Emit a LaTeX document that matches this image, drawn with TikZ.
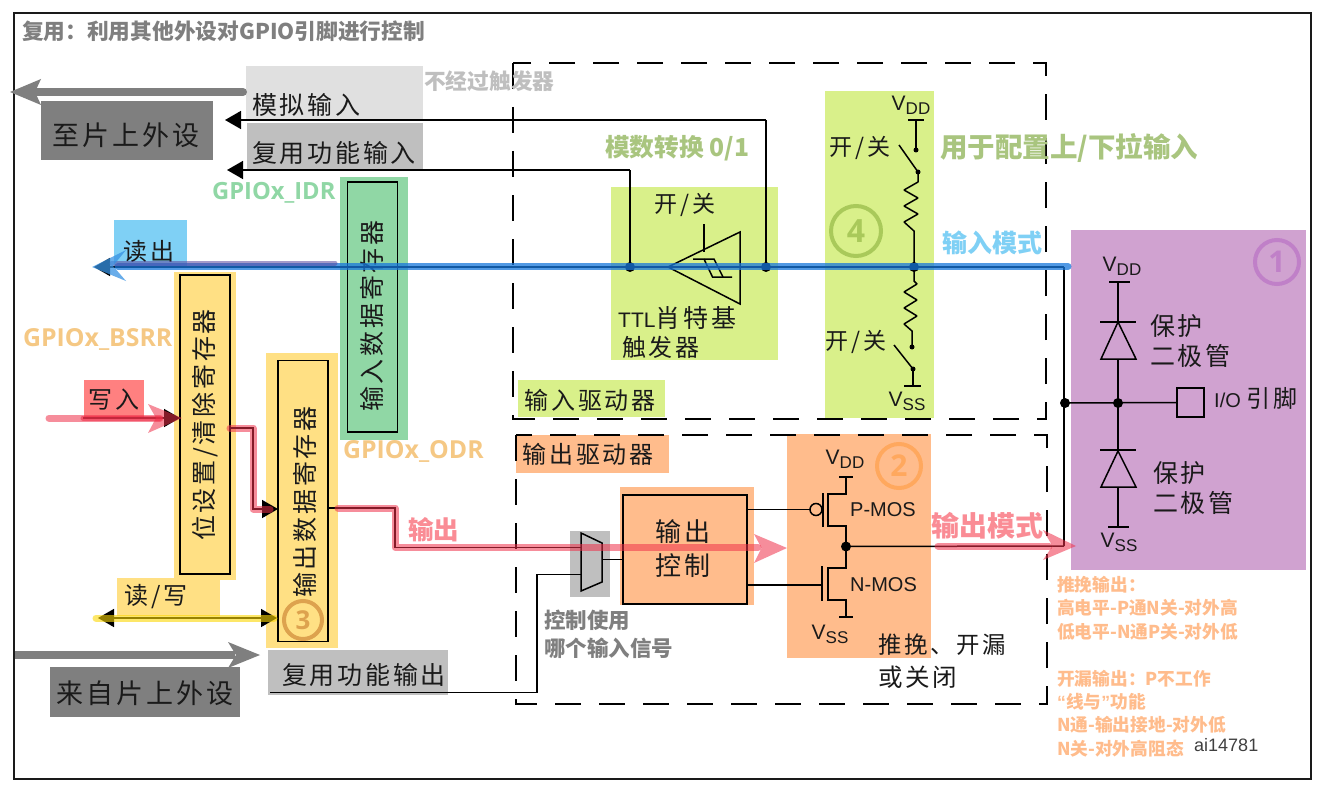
\documentclass[tikz,border=0pt]{standalone}
\usepackage{fontspec}
\setmainfont{Open Sans}
\setsansfont{Liberation Sans}
\newfontfamily\cjk[LetterSpace=11]{Noto Sans CJK SC}
\newfontfamily\cjkb{Noto Sans CJK SC}
\usetikzlibrary{arrows.meta}
\definecolor{ink}{HTML}{1A1A1A}
\definecolor{gfill}{HTML}{7F7F7F}
\definecolor{lgray}{HTML}{BFBFBF}
\definecolor{vlgray}{HTML}{E0E0E0}
\definecolor{greenreg}{HTML}{90D7A5}
\definecolor{yellowreg}{HTML}{FFE084}
\definecolor{orangereg}{HTML}{FFBC8C}
\definecolor{limefill}{HTML}{D9F08A}
\definecolor{purplefill}{HTML}{D0A2D0}
\definecolor{skyfill}{HTML}{7FD0F5}
\definecolor{redfill}{HTML}{FF8080}
\definecolor{olivetxt}{HTML}{A9C57F}
\definecolor{redtxt}{HTML}{FA8C95}
\definecolor{gpioyel}{HTML}{F5C884}
\definecolor{redover}{HTML}{F0304A}
\definecolor{blueover}{HTML}{1878DC}
\definecolor{badgeA}{HTML}{C080C8}
\definecolor{badgeB}{HTML}{FFA85E}
\definecolor{badgeC}{HTML}{DDA24E}
\definecolor{badgeD}{HTML}{A9C95A}
\newcommand\rail[1]{{\sffamily\fontsize{21}{21}\selectfont V\lower4pt\hbox{\fontsize{17}{17}\selectfont #1}}}
\tikzset{
  every node/.style={inner sep=0pt,text=ink},
  lab/.style={font=\cjk\fontsize{#1}{#1}\selectfont},
  bold/.style={font=\cjkb\bfseries\fontsize{#1}{#1}\selectfont},
  gpio/.style={font=\bfseries\fontsize{#1}{#1}\selectfont},
  sanslab/.style={font=\sffamily\fontsize{#1}{#1}\selectfont},
  wire/.style={draw=black,line width=1.5pt},
  reg/.style={draw=black,line width=1.7pt},
  dashbox/.style={draw=black,line width=2pt,dash pattern=on 26pt off 18pt},
  badge/.style={circle,draw=#1,line width=4pt,text=#1,font=\bfseries\fontsize{30}{30}\selectfont},
  dot/.style={circle,fill=black,draw=none,minimum size=10pt},
  smalldot/.style={circle,fill=black,draw=none,minimum size=5pt},
  tip/.style={-{Triangle[length=16pt,width=18pt]}},
  redlayer/.style={draw=redover,opacity=.55,line width=7pt,line cap=round,line join=round},
}
\begin{document}
\begin{tikzpicture}[x=1pt,y=-1pt]
\useasboundingbox (0,0) rectangle (1325,797);
\fill[white] (0,0) rectangle (1325,797);

% ---- colour blocks
\fill[purplefill] (1071,230) rectangle (1306,570);
\fill[limefill] (611,187) rectangle (778,360);
\fill[limefill] (825,91) rectangle (934,418);
\fill[limefill] (518,380) rectangle (665,417);
\fill[orangereg] (787,434) rectangle (931,658);
\fill[orangereg] (620,487) rectangle (754,605);
\fill[orangereg] (516,435) rectangle (669,473);
\fill[lgray] (570,531) rectangle (610,597);
\fill[vlgray] (246,66) rectangle (423,119);
\fill[lgray] (247,123) rectangle (423,170);
\fill[lgray] (268,650) rectangle (448,695);
\fill[gfill] (41,101) rectangle (213,160);
\fill[gfill] (50,667) rectangle (240,717);
\fill[greenreg] (340,177) rectangle (408,440);
\fill[skyfill] (114,220) rectangle (187,267);
\fill[yellowreg] (174,272) rectangle (236,580);
\fill[yellowreg] (266,353) rectangle (338,648);
\fill[yellowreg] (117,578) rectangle (220,616);
\fill[redfill] (84,380) rectangle (144,418);

% ---- frames
\draw[draw=ink,line width=2pt] (14,13) rectangle (1311,779);
\draw[dashbox] (513,63) rectangle (1046,419);
\draw[dashbox] (516,435) rectangle (1047,704);

% ---- registers and blocks
\node[reg,minimum width=50pt,minimum height=250pt] (idr) at (372.5,307) {};
\node[reg,minimum width=50pt,minimum height=299pt] (bsrr) at (205,424.5) {};
\node[reg,minimum width=50pt,minimum height=281pt] (odr) at (303,501) {};
\node[reg,minimum width=124pt,minimum height=109pt] (ctrl) at (685,549.5) {};
\node[reg,minimum width=27pt,minimum height=29pt] (pin) at (1190.5,402.5) {};
\node[lab=25,rotate=90] (idrt) at (372,316) {输入数据寄存器};
\node[lab=25,rotate=90] (bsrrt) at (205,425) {位设置/清除寄存器};
\node[lab=25,rotate=90] (odrt) at (305,502) {输出数据寄存器};
\node[lab=26] (ctrla) at (683,532) {输出};
\node[lab=26] (ctrlb) at (683,566) {控制};

% ---- junctions
\coordinate (jSa) at (630,267);
\coordinate (jSb) at (766,267);
\coordinate (jPull) at (914,267);
\coordinate (jMos) at (846,546.5);
\coordinate (jRail) at (1064,403);
\coordinate (jPin) at (1118,403);
\coordinate (railTop) at (1064,267);
\coordinate (railBot) at (1064,546);
\coordinate (anaEnd) at (225,120);
\coordinate (anaCorner) at (766,120);
\coordinate (altEnd) at (227,170);
\coordinate (altCorner) at (630,170);
\coordinate (readEnd) at (94,267);
\coordinate (writeStart) at (83,418);
\coordinate (rwL) at (98,618);
\coordinate (aoStart) at (270,692.5);
\coordinate (aoCorner) at (537,692.5);
\coordinate (aoTop) at (537,574.5);

% ---- black connectors
\draw[wire,tip] (anaCorner) -- (anaEnd);
\draw[wire] (anaCorner) -- (jSb);
\draw[wire,tip] (altCorner) -- (altEnd);
\draw[wire] (altCorner) -- (jSa);
\draw[wire,tip] (railTop) -- (readEnd);
\draw[wire,tip] (writeStart) -- (180,418);
\draw[wire,tip] (230,428) -- (253,428) -- (253,509) -- (278,509);
\draw[wire,{Triangle[length=16pt,width=18pt]}-{Triangle[length=16pt,width=18pt]}] (rwL) -- (277,618);
\draw[wire] (328,508) -- (395,508) -- (395,547.5) -- (581,547.5);
\draw[wire] (aoStart) -- (aoCorner) -- (aoTop) -- (581,574.5);
\draw[wire] (602,559.5) -- (623,559.5);
\draw[wire] (747,509.5) -- (810,509.5);
\draw[wire] (747,585) -- (822,585);
\draw[wire] (railTop) -- (railBot);
\draw[wire] (jMos) -- (railBot);
\draw[wire] (jRail) -- (pin.west);

% ---- MUX
\draw[wire,line join=miter] (581,533) -- (602,543) -- (602,582) -- (581,591) -- cycle;

% ---- Schmitt trigger
\draw[wire] (668,267) -- (740,232) -- (740,304) -- cycle;
\draw[wire] (704,224) -- (704,252);
\draw[wire] (693,259) -- (714,259) -- (723,277) -- (732,277);
\draw[wire] (704,259) -- (712.5,277) -- (723,277);

% ---- pull up / pull down
\coordinate (puVdd) at (916,120);
\coordinate (puA) at (916,150);
\coordinate (puB) at (918,172);
\coordinate (pdA) at (912,347);
\coordinate (pdB) at (913,369);
\coordinate (pdVss) at (913,386);
\draw[wire] (908,120) -- (924,120);
\draw[wire] (puVdd) -- (puA);
\draw[wire] (899,145) -- (puB);
\draw[wire,line join=bevel] (puB) -- (918,182) -- (904,190) -- (918,198) -- (904,206) -- (918,214) -- (904,222) -- (914,231) -- (jPull);
\draw[wire,line join=bevel] (jPull) -- (914,281) -- (917,284) -- (904,292) -- (917,300) -- (904,308) -- (917,316) -- (904,324) -- (912,331) -- (pdA);
\draw[wire] (894,345) -- (pdB);
\draw[wire] (pdB) -- (pdVss);
\draw[wire] (904,386) -- (921,386);
\node[smalldot] (dpuA) at (puA) {};
\node[smalldot] (dpuB) at (puB) {};
\node[smalldot] (dpdA) at (pdA) {};
\node[smalldot] (dpdB) at (pdB) {};

% ---- MOS pair
\draw[wire] (839,477) -- (853,477);
\draw[wire] (846,477) -- (846,494) -- (828,494) -- (828,526) -- (846,526) -- (jMos);
\draw[wire] (jMos) -- (846,568) -- (828,568) -- (828,600) -- (846,600) -- (846,617);
\draw[wire] (839,617) -- (853,617);
\draw[wire] (823,493) -- (823,527);
\draw[wire] (822,566) -- (822,601);
\node[circle,draw=black,line width=1.5pt,minimum size=12pt] (pgate) at (816,509.5) {};

% ---- protection diodes
\draw[wire] (1109,282) -- (1130,282);
\draw[wire] (1118,282) -- (1118,322);
\draw[wire] (1100,322) -- (1136,322);
\draw[wire] (1118,322) -- (1101,359) -- (1136,359) -- cycle;
\draw[wire] (1118,359) -- (jPin);
\draw[wire] (jPin) -- (1118,450);
\draw[wire] (1100,450) -- (1136,450);
\draw[wire] (1118,451) -- (1101,487) -- (1136,487) -- cycle;
\draw[wire] (1118,487) -- (1118,527);
\draw[wire] (1108,527) -- (1129,527);

% ---- dots
\node[dot] (d1) at (jSa) {};
\node[dot] (d2) at (jSb) {};
\node[dot] (d3) at (jPull) {};
\node[dot] (d4) at (jMos) {};
\node[dot] (d5) at (1065,403) {};
\node[dot] (d6) at (jPin) {};

% ---- text
\node[bold=21.7,text=gfill,anchor=west] (title) at (22,31) {复用：利用其他外设对GPIO引脚进行控制};
\node[bold=21.7,text=lgray,anchor=west] (nota) at (424,81) {不经过触发器};
\node[lab=25,anchor=west] (ana) at (252,105) {模拟输入};
\node[lab=25,anchor=west] (alti) at (252,153) {复用功能输入};
\node[lab=27,anchor=west] (tochip) at (52,135) {至片上外设};
\node[lab=27,anchor=west] (fromchip) at (56,693) {来自片上外设};
\node[lab=25,anchor=west] (alto) at (282,675) {复用功能输出};
\node[lab=24] (read) at (149,251) {读出};
\node[lab=24] (write) at (114,400) {写入};
\node[lab=24] (rw) at (156,597) {读/写};
\node[gpio=23.7,text=greenreg,anchor=west] (idrname) at (212,193) {GPIOx\_IDR};
\node[gpio=24.8,text=gpioyel,anchor=west] (bsrrname) at (23,339) {GPIOx\_BSRR};
\node[gpio=24.8,text=gpioyel,anchor=west] (odrname) at (343,451) {GPIOx\_ODR};
\node[bold=24.7,text=olivetxt,anchor=west] (adc) at (605,148) {模数转换 0/1};
\node[bold=27.5,text=olivetxt,anchor=west] (pullnote) at (940,148) {用于配置上/下拉输入};
\node[bold=25,text=skyfill,anchor=west] (inmode) at (942,243) {输入模式};
\node[bold=28,text=redtxt,anchor=west] (outmode) at (931,526) {输出模式};
\node[bold=25.5,text=redtxt,anchor=west] (outword) at (408,530) {输出};
\node[lab=23] (sw1) at (685,205) {开/关};
\node[lab=23] (sw2) at (860,148) {开/关};
\node[lab=23] (sw3) at (856,342) {开/关};
\node[anchor=west,font=\cjk\fontsize{25}{25}\selectfont] (ttl) at (618,318) {{\sffamily\fontsize{21}{21}\selectfont TTL}肖特基};
\node[lab=24,anchor=west] (ttlb) at (622,347) {触发器};
\node[lab=24] (indrv) at (590,400) {输入驱动器};
\node[lab=24] (outdrv) at (588,454) {输出驱动器};
\node[bold=21.5,text=gfill,anchor=west] (mux1) at (544,620) {控制使用};
\node[bold=21.5,text=gfill,anchor=west] (mux2) at (544,648) {哪个输入信号};
\node[lab=23.4,anchor=west] (pp1) at (878,645) {推挽、开漏};
\node[lab=24.5,anchor=west] (pp2) at (878,677) {或关闭};
\node[sanslab=20,anchor=west] (pmos) at (850,510) {P-MOS};
\node[sanslab=20,anchor=west] (nmos) at (850,585) {N-MOS};
\node (vdd1) at (845,459) {\rail{DD}};
\node (vss1) at (830,634) {\rail{SS}};
\node (vdd2) at (911,105) {\rail{DD}};
\node (vss2) at (907,401) {\rail{SS}};
\node (vdd3) at (1122,266) {\rail{DD}};
\node (vss3) at (1119,542) {\rail{SS}};
\node[lab=25,anchor=west] (dio1a) at (1150,326) {保护};
\node[lab=25,anchor=west] (dio1b) at (1150,356) {二极管};
\node[lab=25,anchor=west] (dio2a) at (1153,473) {保护};
\node[lab=25,anchor=west] (dio2b) at (1153,503) {二极管};
\node[anchor=west,font=\cjk\fontsize{24}{24}\selectfont] (iopin) at (1214,398) {{\sffamily\fontsize{20}{20}\selectfont I/O }引脚};
\node[badge=badgeA,minimum size=44pt] (b1) at (1277,262) {1};
\node[badge=badgeB,minimum size=44pt] (b2) at (899,466) {2};
\node[badge=badgeC,minimum size=38pt,font=\bfseries\fontsize{26}{26}\selectfont] (b3) at (303,620) {3};
\node[badge=badgeD,minimum size=50pt,font=\bfseries\fontsize{32}{32}\selectfont] (b4) at (856,231) {4};
\foreach \t/\y/\n in {推挽输出：/585/a,高电平-P通N关-对外高/608/b,低电平-N通P关-对外低/632/c,开漏输出：P不工作/679/d,{{\sffamily“}线与{\sffamily”}功能}/702/e,N通-输出接地-对外低/725/f,N关-对外高阻态/749/g}
  \node[bold=17.7,text=orangereg,anchor=west] (note\n) at (1057,\y) {\t};
\node[sanslab=18,text=black!75,anchor=west] (aicode) at (1194,745) {ai14781};

% ---- big gray arrows
\draw[draw=gfill,line width=8pt,line cap=round] (243,92) -- (36,92);
\fill[gfill] (10,92) -- (41,79) -- (35,92) -- (41,105) -- cycle;
\draw[draw=gfill,line width=8pt] (15,655) -- (235,655);
\fill[gfill] (260,655) -- (228,642) -- (236,655) -- (228,668) -- cycle;

% ---- highlight overlays
\draw[draw=blueover,opacity=.75,line width=7pt,line cap=round] (1068,266.5) -- (118,266.5);
\draw[draw=blueover!60!purple,opacity=.55,line width=5pt,line cap=round] (335,263) -- (112,263);
\fill[blueover!70!skyfill,opacity=.75] (92,267) -- (126,250) -- (113,266) -- (126,281) -- cycle;
\draw[redlayer] (49,418) -- (160,418);
\draw[draw=redover,opacity=.6,line width=5pt,line cap=round] (83,418) -- (160,418);
\fill[redover,opacity=.55] (182,418) -- (148,404) -- (156,418) -- (148,433) -- cycle;
\draw[redlayer] (230,428) -- (253,428) -- (253,509) -- (270,509);
\draw[redlayer] (338,508) -- (395,508) -- (395,547.5) -- (758,547.5);
\fill[redover,opacity=.55] (787,548) -- (754,534) -- (761.5,548) -- (754,563) -- cycle;
\draw[redlayer] (938,546) -- (1049,546);
\fill[redover,opacity=.55] (1076,546) -- (1043,530) -- (1052.5,546) -- (1043,560) -- cycle;
\draw[draw=yellow!75!orange,opacity=.6,line width=7pt,line cap=round] (96,618) -- (274,618);
\end{tikzpicture}
\end{document}
